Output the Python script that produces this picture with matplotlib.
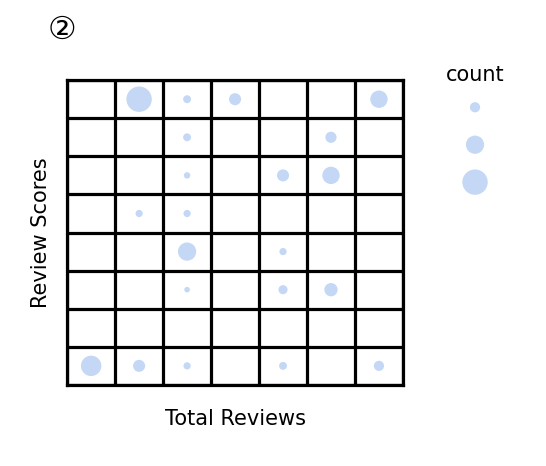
import numpy as np
import matplotlib.pyplot as plt

# grade 7 colunas (Total Reviews) x 8 linhas (Review Scores), linha 0 = topo
colunas = [1, 2, 3, 6, 2, 5, 2, 4, 5, 1, 2, 2, 4, 2, 4, 5, 0, 1, 2, 4, 6]
linhas  = [0, 0, 0, 0, 1, 1, 2, 2, 2, 3, 3, 4, 4, 5, 5, 5, 7, 7, 7, 7, 7]
contagem = [62, 6, 14, 29, 6, 12, 4, 14, 29, 5, 5, 32, 5, 3, 8, 17, 40, 14, 5, 6, 10]

leg_contagem = [10, 32, 62]

azul = '#c4d8f6'
n_col, n_lin = 7, 8

fig = plt.figure(figsize=(5.46, 4.66), dpi=100)
ax = fig.add_axes([0.123, 0.174, 0.615, 0.654])

y = [n_lin - 1 - l for l in linhas]
ax.scatter(colunas, y, s=np.array(contagem) * 5.4, c=azul, edgecolors='none', zorder=1)

ax.set_xlim(-0.5, n_col - 0.5)
ax.set_ylim(-0.5, n_lin - 0.5)
ax.set_xticks(np.arange(-0.5, n_col), minor=True)
ax.set_yticks(np.arange(-0.5, n_lin), minor=True)
ax.set_xticks([])
ax.set_yticks([])
ax.grid(which='minor', color='black', lw=2.3, zorder=2)
ax.tick_params(which='both', length=0)
for s in ax.spines.values():
    s.set_linewidth(2.3)
ax.set_xlabel('Total Reviews', fontsize=15, labelpad=14)
ax.set_ylabel('Review Scores', fontsize=15, labelpad=8)

# legenda desenhada num eixo pequeno
axl = fig.add_axes([0.83, 0.569, 0.08, 0.241])
axl.scatter([0, 0, 0], [2, 1, 0], s=np.array(leg_contagem) * 5.4, c=azul, edgecolors='none')
axl.set_xlim(-1, 1)
axl.set_ylim(-0.5, 2.5)
axl.axis('off')
fig.text(0.87, 0.839, 'count', fontsize=15, ha='center', va='center')

fig.text(0.113, 0.935, '②', fontsize=23, ha='center', va='center')

fig.savefig('out.png', dpi=100)
